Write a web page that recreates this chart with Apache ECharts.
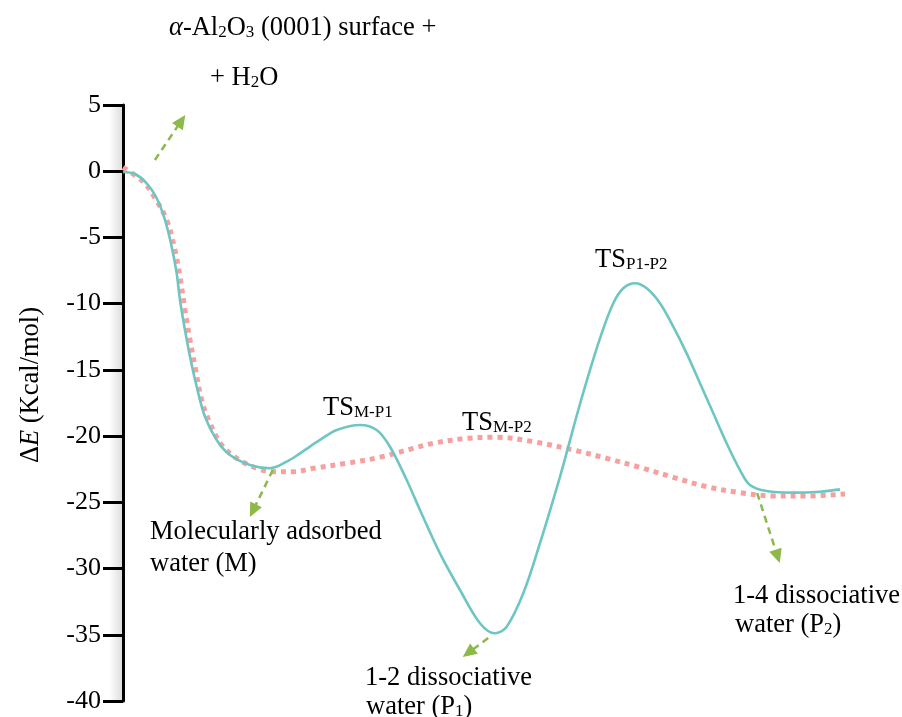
<!DOCTYPE html>
<html>
<head>
<meta charset="utf-8">
<script src="https://cdn.jsdelivr.net/npm/echarts@6/dist/echarts.min.js"></script>
<style>
  html, body { margin: 0; padding: 0; background: #fff; }
  #chart { width: 902px; height: 717px; }
</style>
</head>
<body>
<div id="chart"></div>
<script>
// ---- data (reaction coordinate, energy in kcal/mol) ----
const solidCoord  = [0, 0.199, 0.394, 0.560, 0.698, 0.809, 0.892, 0.947, 1.030, 1.114, 1.225, 1.363, 1.557, 1.778, 2.111, 2.443, 2.721, 2.942, 3.274, 3.552, 3.939, 4.216, 4.437, 4.715, 4.936, 5.268, 5.601, 5.933, 6.182, 6.377, 6.653, 6.930, 7.263, 7.401, 7.567, 7.761, 7.956, 8.149, 8.315, 8.509, 8.704, 8.925, 9.146, 9.368, 9.590, 9.811, 10.033, 10.254, 10.420, 10.698, 11.140, 11.584, 11.916];
const solidEnergy = [-0.06, -0.21, -0.91, -2.04, -3.68, -5.70, -7.71, -9.72, -11.99, -14.00, -16.27, -18.54, -20.29, -21.43, -22.18, -22.43, -21.93, -21.30, -20.29, -19.54, -19.16, -19.54, -20.80, -23.31, -25.58, -28.85, -31.62, -34.13, -34.89, -34.39, -31.87, -28.09, -23.07, -20.80, -18.03, -15.01, -12.24, -9.97, -8.84, -8.46, -8.84, -9.97, -11.74, -13.75, -16.01, -18.28, -20.54, -22.56, -23.69, -24.15, -24.27, -24.20, -24.02];

const dottedCoord  = [0, 0.337, 0.532, 0.726, 0.864, 0.947, 1.030, 1.114, 1.197, 1.308, 1.446, 1.640, 1.890, 2.222, 2.498, 2.830, 3.163, 3.718, 4.271, 4.825, 5.157, 5.712, 6.211, 6.819, 7.484, 8.039, 8.592, 9.146, 9.701, 10.254, 10.808, 11.363, 12.0];
const dottedEnergy = [0.28, -0.79, -2.04, -3.68, -5.95, -7.96, -10.48, -12.74, -14.76, -17.27, -19.03, -20.67, -21.68, -22.43, -22.69, -22.69, -22.43, -22.05, -21.60, -20.92, -20.54, -20.17, -20.09, -20.42, -21.05, -21.68, -22.36, -23.11, -23.82, -24.27, -24.52, -24.52, -24.37];

// annotation arrows (from -> arrow head), in data units
const arrowFrom = [[0.53, 0.85], [2.49, -22.56], [6.07, -35.25], [10.54, -24.30]];
const arrowTo   = [[0.97, 3.81], [2.16, -25.63], [5.74, -36.36], [10.88, -29.08]];

// axis range
const energyMin = -40, energyMax = 5, energyStep = 5;
const coordMin = 0, coordMax = 12;

// label texts
const titleLine1 = '{i|α}{a|-Al}{s|2}{a|O}{s|3}{a| (0001) surface +}';
const titleLine2 = '{a|+ H}{s|2}{a|O}';
const yName = '{a|Δ}{i|E}{a| (Kcal/mol)}';
const tsLabels = ['{a|TS}{s|M-P1}', '{a|TS}{s|M-P2}', '{a|TS}{s|P1-P2}'];
const stateLabels = [
  ['{a|Molecularly adsorbed}', '{a|water (M)}'],
  ['{a|1-2 dissociative}', '{a|water (P}{s|1}{a|)}'],
  ['{a|1-4 dissociative}', '{a|water (P}{s|2}{a|)}']
];

// ---- build ----
const FONT = 'Liberation Serif';
const rich = {
  a: { fontFamily: FONT, fontSize: 26.5, lineHeight: 30, verticalAlign: 'bottom', color: '#000' },
  i: { fontFamily: FONT, fontSize: 26.5, lineHeight: 30, verticalAlign: 'bottom', fontStyle: 'italic', color: '#000' },
  s: { fontFamily: FONT, fontSize: 17, lineHeight: 16, verticalAlign: 'bottom', color: '#000' }
};

function textEl(str, x, baseline, rotation) {
  return {
    type: 'text',
    x: x, y: baseline - 23.6,
    rotation: rotation || 0,
    style: { text: str, rich: rich, align: 'left', verticalAlign: 'top', fill: '#000' },
    z: 10
  };
}

const zip = (xs, ys) => xs.map((x, k) => [x, ys[k]]);

const graphics = [
  {
    type: 'rect', shape: { x: 109, y: 105, width: 13, height: 596 }, z: -1, silent: true,
    style: {
      fill: new echarts.graphic.LinearGradient(0, 0, 1, 0, [
        { offset: 0, color: 'rgba(0,0,0,0)' },
        { offset: 1, color: 'rgba(0,0,0,0.13)' }
      ])
    }
  },
  textEl(titleLine1, 169, 35),
  textEl(titleLine2, 210, 85),
  textEl(tsLabels[0], 323, 415),
  textEl(tsLabels[1], 462, 430),
  textEl(tsLabels[2], 595, 267),
  textEl(stateLabels[0][0], 150, 539),
  textEl(stateLabels[0][1], 150, 571),
  textEl(stateLabels[1][0], 365, 685),
  textEl(stateLabels[1][1], 366, 714),
  textEl(stateLabels[2][0], 733, 603),
  textEl(stateLabels[2][1], 735, 632),
  {
    type: 'text', x: 29.5, y: 385, rotation: Math.PI / 2,
    style: { text: yName, rich: rich, align: 'center', verticalAlign: 'middle' }, z: 10
  }
];

const chart = echarts.init(document.getElementById('chart'), null, { renderer: 'canvas' });
chart.setOption({
  animation: false,
  backgroundColor: '#fff',
  textStyle: { fontFamily: FONT },
  grid: { left: 123, right: 57, top: 105, bottom: 16, containLabel: false, outerBoundsMode: 'none' },
  xAxis: { type: 'value', min: coordMin, max: coordMax, show: false },
  yAxis: {
    type: 'value', min: energyMin, max: energyMax, interval: energyStep,
    axisLine: { show: true, onZero: false, lineStyle: { color: '#000', width: 3 } },
    axisTick: { show: true, inside: false, length: 20, lineStyle: { color: '#000', width: 3 } },
    splitLine: { show: false },
    axisLabel: {
      color: '#000', fontFamily: FONT, fontSize: 26, margin: 22,
      formatter: v => '{t|' + v + '}',
      rich: { t: { fontFamily: FONT, fontSize: 26, color: '#000' } }
    }
  },
  series: [
    {
      type: 'line', name: 'dotted', data: zip(dottedCoord, dottedEnergy),
      smooth: 0.35, showSymbol: false, symbol: 'none',
      lineStyle: { color: '#f7a0a0', width: 5, type: [5, 5], cap: 'butt' },
      z: 2
    },
    {
      type: 'line', name: 'solid', data: zip(solidCoord, solidEnergy),
      smooth: 0.35, showSymbol: false, symbol: 'none',
      lineStyle: { color: '#6ec6c3', width: 2.6 },
      z: 3,
      markLine: {
        silent: true,
        symbol: ['none', 'triangle'],
        symbolSize: [13, 14],
        label: { show: false },
        lineStyle: { color: '#8db84a', width: 2.5, type: [7, 5] },
        itemStyle: { color: '#8db84a' },
        data: arrowFrom.map((f, k) => [{ coord: f }, { coord: arrowTo[k] }])
      }
    }
  ],
  graphic: graphics
});
</script>
</body>
</html>
